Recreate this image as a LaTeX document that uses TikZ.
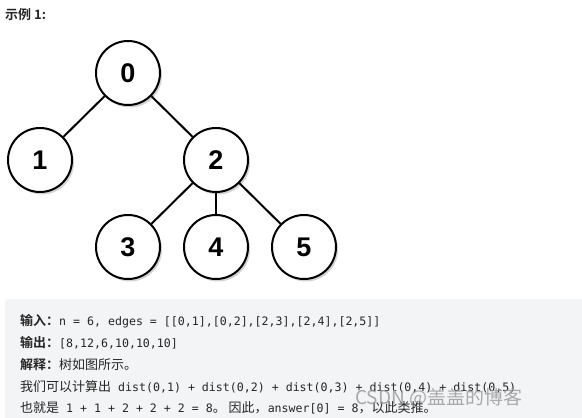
\documentclass[tikz,border=0pt]{standalone}
\usepackage{fontspec}
\setmainfont{Noto Sans CJK SC}[BoldFont={Noto Sans CJK SC Bold}]
\setmonofont{DejaVu Sans Mono}
\newfontfamily\digitfont{Liberation Sans}
\usetikzlibrary{positioning,shadows}
\definecolor{lcgray}{RGB}{243,244,246}
\definecolor{lctext}{RGB}{38,38,38}
\definecolor{lcmark}{RGB}{150,150,150}
\tikzstyle{treenode} = [circle, draw=black, line width=2pt, fill=white, minimum size=64pt, inner sep=0pt, font=\digitfont\bfseries\fontsize{27}{27}\selectfont, drop shadow={shadow xshift=2pt, shadow yshift=-2.5pt, opacity=0.35}]
\tikzstyle{edge} = [line width=2pt, draw=black]
\tikzstyle{textline} = [anchor=west, inner sep=0pt, text=lctext, font=\fontsize{13}{13}\selectfont]
\newcommand{\code}[1]{{\ttfamily\fontsize{11.6}{13}\selectfont #1}}

\begin{document}
\begin{tikzpicture}[x=1pt, y=-1pt, on grid, node distance=87pt and 88pt]
\useasboundingbox (0,0) rectangle (582,418);

% Title
\node (title) [anchor=west, inner sep=0pt, text=lctext, font=\bfseries\fontsize{13}{13}\selectfont] at (5,15) {示例 1:};

% Tree nodes
\node (n0) [treenode] at (128,73) {0};
\node (n1) [treenode, below left=of n0] {1};
\node (n2) [treenode, below right=of n0] {2};
\node (n3) [treenode, below left=of n2] {3};
\node (n4) [treenode, below=of n2] {4};
\node (n5) [treenode, below right=of n2] {5};

% Edges
\draw[edge] (n0) -- (n1);
\draw[edge] (n0) -- (n2);
\draw[edge] (n2) -- (n3);
\draw[edge] (n2) -- (n4);
\draw[edge] (n2) -- (n5);

% Example box
\fill[lcgray, rounded corners=4pt] (5,299) rectangle (592,428);
\node (input) [textline] at (20,321) {\textbf{输入：}\code{n = 6, edges = [[0,1],[0,2],[2,3],[2,4],[2,5]]}};
\node (output) [textline] at (20,343) {\textbf{输出：}\code{[8,12,6,10,10,10]}};
\node (explain) [textline] at (20,365) {\textbf{解释：}树如图所示。};
\node (calc) [textline] at (20,387) {我们可以计算出\code{ dist(0,1) + dist(0,2) + dist(0,3) + dist(0,4) + dist(0,5)}};
\node (sum) [textline] at (20,408) {也就是\code{ 1 + 1 + 2 + 2 + 2 = 8}。 因此，\code{answer[0] = 8}，以此类推。};

% Watermark
\node (mark) [anchor=west, inner sep=0pt, text=lcmark, opacity=0.8, font=\fontsize{19}{19}\selectfont] at (355,398) {CSDN @盖盖的博客};
\end{tikzpicture}
\end{document}
